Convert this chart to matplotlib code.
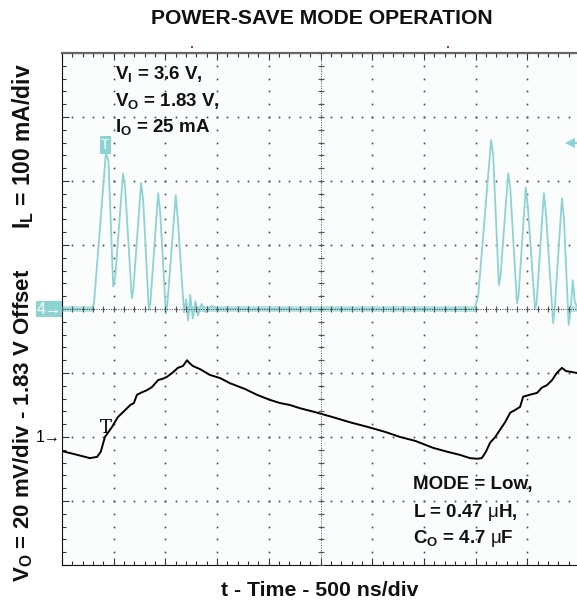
import numpy as np
import matplotlib
matplotlib.use("Agg")
import matplotlib.pyplot as plt

plt.rcParams['font.family'] = ['Liberation Sans', 'DejaVu Sans']
plt.rcParams['mathtext.fontset'] = 'custom'
plt.rcParams['mathtext.rm'] = 'Liberation Sans'
plt.rcParams['mathtext.bf'] = 'Liberation Sans:bold'
plt.rcParams['mathtext.it'] = 'Liberation Sans:italic'

#-----------------------------------------------
# data (x in div of 500 ns, y in div)

# inductor current, channel 4 (baseline at 4 div)
IL_t = [0.00, 0.58, 0.62, 0.85, 0.90, 0.99, 1.03, 1.18, 1.22, 1.35, 1.38, 1.53, 1.57,
        1.68, 1.71, 1.86, 1.90, 2.01, 2.04, 2.20, 2.24, 2.36, 2.40, 2.44, 2.48, 2.53,
        2.58, 2.63, 2.70, 2.78, 2.90, 3.00, 7.95, 7.98, 8.05, 8.30, 8.34, 8.45, 8.48,
        8.63, 8.67, 8.80, 8.83, 8.97, 9.01, 9.15, 9.18, 9.32, 9.36, 9.50, 9.53, 9.67,
        9.71, 9.80, 9.84, 9.88, 9.92, 10.0]
IL_v = [4.00, 4.00, 4.10, 6.45, 6.30, 4.35, 4.50, 6.12, 5.90, 4.17, 4.30, 5.97, 5.70,
        3.98, 4.10, 5.81, 5.50, 3.93, 4.10, 5.78, 5.40, 3.95, 4.15, 3.82, 4.22, 3.85,
        4.12, 3.90, 4.08, 3.95, 4.05, 4.00, 4.00, 4.00, 4.20, 6.64, 6.40, 4.37, 4.50,
        6.12, 5.90, 4.09, 4.20, 5.90, 5.60, 4.00, 4.10, 5.81, 5.50, 3.78, 4.00, 5.73,
        5.40, 3.75, 4.00, 4.45, 4.10, 4.00]

# noise band on the idle baseline
band_start = [0.0, 2.4, 9.84]
band_end = [0.6, 8.0, 10.0]
band_half = 0.05

# output voltage ripple, channel 1 (zero at 2 div)
VO_t = [0.00, 0.25, 0.54, 0.68, 0.75, 0.83, 0.97, 1.08, 1.22, 1.32, 1.39, 1.45, 1.55,
        1.64, 1.74, 1.86, 1.95, 2.03, 2.13, 2.24, 2.34, 2.42, 2.46, 2.53, 2.67, 2.86,
        3.06, 3.25, 3.54, 3.77, 4.02, 4.22, 4.41, 4.60, 4.89, 5.24, 5.57, 5.90, 6.25,
        6.54, 6.83, 7.18, 7.45, 7.70, 7.89, 8.03, 8.12, 8.20, 8.28, 8.38, 8.47, 8.57,
        8.67, 8.76, 8.86, 8.92, 9.05, 9.19, 9.28, 9.38, 9.48, 9.57, 9.67, 9.75, 9.83,
        9.96, 10.0]
VO_v = [1.78, 1.73, 1.67, 1.69, 1.77, 2.00, 2.16, 2.31, 2.42, 2.50, 2.53, 2.66, 2.70,
        2.73, 2.78, 2.89, 2.91, 2.94, 3.00, 3.08, 3.11, 3.20, 3.16, 3.11, 3.06, 2.97,
        2.92, 2.84, 2.75, 2.66, 2.58, 2.53, 2.50, 2.45, 2.39, 2.31, 2.23, 2.16, 2.08,
        2.00, 1.94, 1.83, 1.77, 1.72, 1.67, 1.66, 1.67, 1.77, 1.91, 2.00, 2.11, 2.23,
        2.38, 2.42, 2.47, 2.63, 2.66, 2.69, 2.77, 2.81, 2.89, 3.00, 3.08, 3.03, 3.02,
        3.00, 3.02]

#-----------------------------------------------

cyan = '#8ed3d3'
ink = '#111111'

fig = plt.figure(figsize=(5.77, 6.01), dpi=100)
ax = fig.add_axes([62/577., 36/601., 517/577., 512/601.])
ax.set_xlim(0, 10)
ax.set_ylim(0, 8)
ax.set_facecolor('#fbfdfd')

# scope graticule: dots on the major lines
minor = np.arange(0, 10.01, 0.2)
minor_y = np.arange(0, 8.01, 0.2)
for i in range(1, 10):
    ax.plot(np.full(len(minor_y), i), minor_y, ls='none', marker='s', ms=1.2,
            color='#444444', mew=0)
for j in range(1, 8):
    ax.plot(minor, np.full(len(minor), j), ls='none', marker='s', ms=1.2,
            color='#444444', mew=0)

# center lines with their small ticks (drawn over the traces)
ax.axvline(5, ls=(0, (1, 1.5)), lw=0.7, color='#555555', zorder=4)
ax.axhline(4, ls=(0, (1, 1.5)), lw=0.7, color='#333333', zorder=4)
ax.plot(np.full(len(minor_y), 5), minor_y, ls='none', marker='_', ms=5, color='#555555', mew=0.8, zorder=4)
ax.plot(minor, np.full(len(minor), 4), ls='none', marker='|', ms=5, color='#555555', mew=0.8, zorder=4)

ax.set_xticks(np.arange(0, 11, 1))
ax.set_yticks(np.arange(0, 9, 1))
ax.set_xticks(minor, minor=True)
ax.set_yticks(minor_y, minor=True)
ax.tick_params(which='both', direction='in', top=True, bottom=True, left=True, right=False,
               labelbottom=False, labelleft=False, color='#333333')
ax.tick_params(which='major', length=5, width=0.8)
ax.tick_params(which='minor', length=3, width=0.8)
ax.spines['right'].set_visible(False)
ax.spines['top'].set_color('#666666')
ax.spines['top'].set_linewidth(1.6)
ax.spines['left'].set_color('#111111')
ax.spines['bottom'].set_color('#111111')

#-----------------------------------------------
# traces

for a, b in zip(band_start, band_end):
    ax.fill_between([a, b], 4 - band_half, 4 + band_half, color=cyan, lw=0, alpha=0.6)
ax.plot(IL_t, IL_v, color=cyan, lw=1.3)
ax.plot(VO_t, VO_v, color='black', lw=1.4)

#-----------------------------------------------
# scope markers

ax.text(-0.01, 4, '4\u2192', color='white', fontsize=11.5, ha='right', va='center',
        bbox=dict(boxstyle='square,pad=0.06', fc=cyan, ec='none'), clip_on=False)
ax.text(-0.02, 2, '1\u2192', color='black', fontsize=11.5, ha='right', va='center', clip_on=False)
ax.text(0.84, 6.56, 'T', color='white', fontsize=10, ha='center', va='center',
        bbox=dict(boxstyle='square,pad=0.12', fc=cyan, ec='none'))
ax.text(0.84, 2.0, 'T', color='black', fontsize=13, ha='center', va='bottom', family='DejaVu Serif')
ax.plot(9.83, 6.59, marker='<', ms=7, color=cyan, mew=0, clip_on=False)
ax.plot([9.83, 10.0], [6.59, 6.59], color=cyan, lw=1.5)
ax.plot([2.51, 7.47], [8.09, 8.09], ls='none', marker='s', ms=2, color='#b04040', mew=0, clip_on=False)

#-----------------------------------------------
# labels

fig.text(0.557, 0.970, 'POWER-SAVE MODE OPERATION', fontsize=15.2, fontweight='bold',
         ha='center', va='center', color=ink)
fig.text(0.555, 0.018, 't - Time - 500 ns/div', fontsize=15.3, fontweight='bold',
         ha='center', va='center', color=ink)
fig.text(0.040, 0.757, r'I$_\mathbf{L}$ = 100 mA/div', fontsize=16.5, fontweight='bold',
         rotation=90, ha='center', va='center', color=ink)
fig.text(0.040, 0.293, r'V$_\mathbf{O}$ = 20 mV/div - 1.83 V Offset', fontsize=16,
         fontweight='bold', rotation=90, ha='center', va='center', color=ink)

ax.text(1.03, 7.59, r'V$_\mathbf{I}$ = 3.6 V,', fontsize=13.5, fontweight='bold', color=ink, va='baseline')
ax.text(1.03, 7.17, r'V$_\mathbf{O}$ = 1.83 V,', fontsize=13.5, fontweight='bold', color=ink, va='baseline')
ax.text(1.03, 6.77, r'I$_\mathbf{O}$ = 25 mA', fontsize=13.5, fontweight='bold', color=ink, va='baseline')

ax.text(6.79, 1.19, 'MODE = Low,', fontsize=13.5, fontweight='bold', color=ink, va='baseline')
ax.text(6.79, 0.75, r'L = 0.47 $\mathrm{\mu}$H,', fontsize=13.5, fontweight='bold', color=ink, va='baseline')
ax.text(6.79, 0.34, r'C$_\mathbf{O}$ = 4.7 $\mathrm{\mu}$F', fontsize=13.5, fontweight='bold', color=ink, va='baseline')

fig.savefig("out.png", dpi=100)
